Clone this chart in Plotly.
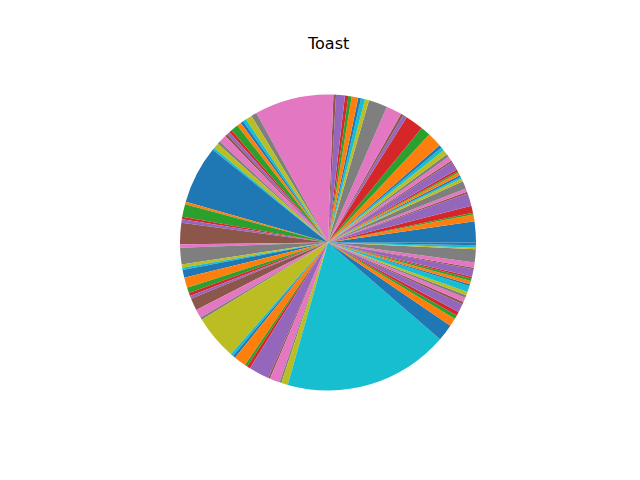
import plotly.graph_objects as go

# slice sizes (degrees of the pie), counter-clockwise from 3 o'clock
values = [
    8.3, 2.6, 0.7, 2.8, 4.9, 0.8, 1.3, 3.0, 1.2, 0.7,
    0.7, 1.1, 0.6, 0.8, 3.4, 0.7, 1.8, 1.2, 2.0, 1.3,
    1.2, 5.7, 3.9, 7.2, 1.5, 1.0, 6.2, 7.3, 1.6, 1.6,
    1.1, 2.6, 1.3, 1.3, 3.5, 1.0, 31.1, 2.2, 2.5, 1.3,
    1.1, 1.7, 2.9, 1.1, 1.2, 1.0, 3.0, 1.1, 2.2, 0.9,
    22.8, 1.0, 5.0, 1.0, 1.3, 8.4, 1.3, 6.5, 1.3, 0.9,
    3.1, 4.0, 2.1, 1.3, 1.1, 4.8, 3.4, 1.0, 17.5, 1.1,
    1.0, 4.8, 1.0, 1.3, 8.0, 0.7, 4.0, 0.7, 2.6, 65.0,
    6.6, 3.2, 1.5, 1.5, 3.3, 1.0, 1.8, 1.0, 1.4, 2.4,
    0.7, 1.3, 1.0, 0.7, 3.0, 0.6, 2.0, 5.2, 0.6, 0.9,
    1.1,
]
labels = [f"Item {i + 1}" for i in range(len(values))]

palette = ["#1f77b4", "#ff7f0e", "#2ca02c", "#d62728", "#9467bd",
           "#8c564b", "#e377c2", "#7f7f7f", "#bcbd22", "#17becf"]
colors = [palette[i % len(palette)] for i in range(len(values))]

W, H = 640, 480
cx, cy, r = 328, 242.5, 148

# Plotly puts the first slice clockwise of the rotation line when drawing
# counter-clockwise; shift so that the first slice starts at 3 o'clock.
first_deg = values[0] / sum(values) * 360
rotation = 90 - first_deg

fig = go.Figure(go.Pie(
    labels=labels,
    values=values,
    sort=False,
    direction="counterclockwise",
    rotation=rotation,
    marker=dict(colors=colors, line=dict(width=0)),
    textinfo="none",
    showlegend=False,
    domain=dict(x=[(cx - r) / W, (cx + r) / W],
                y=[(H - cy - r) / H, (H - cy + r) / H]),
))

fig.update_layout(
    width=W, height=H,
    margin=dict(l=0, r=0, t=0, b=0),
    paper_bgcolor="white",
    plot_bgcolor="white",
    annotations=[dict(
        text="Toast", x=cx / W, y=(H - 43) / H, xref="paper", yref="paper",
        showarrow=False, xanchor="center", yanchor="middle",
        font=dict(family="DejaVu Sans", size=16, color="black"),
    )],
)

fig.write_html("out.html",
               config={"displayModeBar": False},
               post_script="document.body.style.margin='0px';")
